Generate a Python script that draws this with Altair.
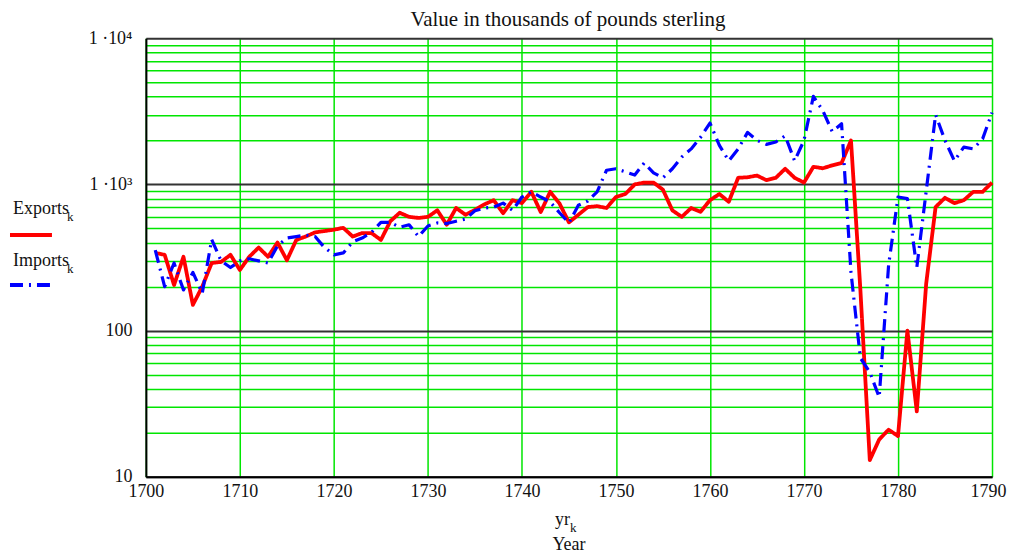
import altair as alt
import pandas as pd

years = list(range(1701, 1791))
exports = [340, 330, 205, 320, 150, 200, 290, 295, 330, 260,
           320, 370, 320, 400, 303, 417, 440, 470, 480, 490,
           505, 440, 465, 465, 417, 560, 640, 600, 590, 600,
           665, 530, 690, 620, 670, 730, 780, 635, 780, 745,
           890, 647, 890, 740, 550, 620, 700, 710, 690, 820,
           860, 1000, 1030, 1030, 920, 665, 600, 690, 650, 780,
           860, 760, 1110, 1120, 1150, 1070, 1110, 1280, 1110, 1030,
           1320, 1290, 1350, 1400, 2000, 190, 13, 18, 21, 19,
           100, 28, 210, 700, 810, 745, 780, 890, 890, 1030]
imports = [355, 200, 290, 190, 250, 180, 420, 300, 270, 300,
           310, 300, 290, 380, 430, 440, 450, 440, 370, 330,
           340, 405, 430, 470, 550, 550, 510, 530, 440, 520,
           545, 540, 560, 580, 660, 690, 700, 745, 665, 820,
           890, 820, 760, 640, 545, 720, 770, 890, 1250, 1280,
           1220, 1160, 1400, 1200, 1110, 1280, 1540, 1750, 2100, 2630,
           1850, 1450, 1750, 2270, 2000, 1880, 1950, 2150, 1450, 2000,
           4000, 3200, 2300, 2600, 250, 65, 52, 35, 280, 820,
           800, 270, 900, 3000, 2000, 1450, 1800, 1750, 2050, 3100]

x_ticks = [1700, 1710, 1720, 1730, 1740, 1750, 1760, 1770, 1780, 1790]
y_ticks = [10, 20, 30, 40, 50, 60, 70, 80, 90,
           100, 200, 300, 400, 500, 600, 700, 800, 900,
           1000, 2000, 3000, 4000, 5000, 6000, 7000, 8000, 9000, 10000]
title_text = "Value in thousands of pounds sterling"
series_names = ["Exports", "Imports"]
series_colors = ["#ff0000", "#0000ff"]
subscript = "k"
x_title_top = "yr"
x_title_bottom = "Year"

FONT = "Liberation Serif"
W, H = 847, 439
DASH = [13, 6, 2, 6]
GREEN = "#00e600"
DECADE_TEST = "indexof([10,100,1000,10000], datum.value) >= 0"

df = pd.DataFrame({
    "year": years + years,
    "value": exports + imports,
    "series": [series_names[0]] * len(years) + [series_names[1]] * len(years),
})

x_scale = alt.Scale(domain=[1700, 1790], nice=False, zero=False)
y_scale = alt.Scale(type="log", domain=[10, 10000], nice=False)

x_axis = alt.Axis(values=x_ticks, format="d", grid=True, gridColor=GREEN,
                  gridWidth=1.5, ticks=False, domainColor="#000", domainWidth=2,
                  labelFont=FONT, labelFontSize=18, labelColor="#111",
                  labelOffset={"condition": {"test": "datum.value == 1790", "value": -4}, "value": 0},
                  labelPadding=6, title=None, labelFlush=False, labelOverlap=False)
y_axis = alt.Axis(values=y_ticks, grid=True,
                  gridColor={"condition": {"test": DECADE_TEST, "value": "#333333"}, "value": GREEN},
                  gridWidth={"condition": {"test": DECADE_TEST, "value": 2}, "value": 1.5},
                  ticks=False, domainColor="#000", domainWidth=2,
                  labelFont=FONT, labelFontSize=18, labelColor="#111",
                  labelPadding=14, title=None, labelOverlap=False, labelFlush=False,
                  labelExpr="datum.value == 10000 ? '1 ·10⁴' : datum.value == 1000 ? '1 ·10³' : datum.value == 100 ? '100' : datum.value == 10 ? '10' : ''")

lines = alt.Chart(df).mark_line(strokeJoin="round", strokeCap="butt").encode(
    x=alt.X("year:Q", scale=x_scale, axis=x_axis),
    y=alt.Y("value:Q", scale=y_scale, axis=y_axis),
    color=alt.Color("series:N", scale=alt.Scale(domain=series_names, range=series_colors), legend=None),
    strokeDash=alt.StrokeDash("series:N", scale=alt.Scale(domain=series_names, range=[[1, 0], DASH]), legend=None),
    strokeWidth=alt.StrokeWidth("series:N", scale=alt.Scale(domain=series_names, range=[3.8, 3.2]), legend=None),
    order=alt.Order("year:Q"),
)

one = pd.DataFrame({"a": [0]})

title_mark = alt.Chart(one).mark_text(font=FONT, fontSize=21, color="#111",
                                      align="center", baseline="alphabetic").encode(
    x=alt.value(W / 2 - 1), y=alt.value(-12), text=alt.value(title_text))

leg_exp_text = alt.Chart(one).mark_text(font=FONT, fontSize=18, color="#111",
                                        align="left", baseline="alphabetic").encode(
    x=alt.value(-133), y=alt.value(176), text=alt.value(series_names[0]))
leg_exp_sub = alt.Chart(one).mark_text(font=FONT, fontSize=13, color="#111",
                                       align="left", baseline="alphabetic").encode(
    x=alt.value(-79), y=alt.value(183), text=alt.value(subscript))
leg_exp_line = alt.Chart(one).mark_rule(color=series_colors[0], strokeWidth=4).encode(
    x=alt.value(-136), x2=alt.value(-94), y=alt.value(197))

leg_imp_text = alt.Chart(one).mark_text(font=FONT, fontSize=18, color="#111",
                                        align="left", baseline="alphabetic").encode(
    x=alt.value(-133), y=alt.value(228), text=alt.value(series_names[1]))
leg_imp_sub = alt.Chart(one).mark_text(font=FONT, fontSize=13, color="#111",
                                       align="left", baseline="alphabetic").encode(
    x=alt.value(-79), y=alt.value(235), text=alt.value(subscript))
leg_imp_line = alt.Chart(one).mark_rule(color=series_colors[1], strokeWidth=4,
                                        strokeDash=DASH, strokeCap="butt").encode(
    x=alt.value(-136), x2=alt.value(-94), y=alt.value(247))

xt_top = alt.Chart(one).mark_text(font=FONT, fontSize=18, color="#111",
                                  align="right", baseline="alphabetic").encode(
    x=alt.value(W / 2 + 1), y=alt.value(487), text=alt.value(x_title_top))
xt_sub = alt.Chart(one).mark_text(font=FONT, fontSize=13, color="#111",
                                  align="left", baseline="alphabetic").encode(
    x=alt.value(W / 2 + 1), y=alt.value(494), text=alt.value(subscript))
xt_bot = alt.Chart(one).mark_text(font=FONT, fontSize=18, color="#111",
                                  align="center", baseline="alphabetic").encode(
    x=alt.value(W / 2), y=alt.value(512), text=alt.value(x_title_bottom))

chart = alt.layer(
    lines, title_mark,
    leg_exp_text, leg_exp_sub, leg_exp_line,
    leg_imp_text, leg_imp_sub, leg_imp_line,
    xt_top, xt_sub, xt_bot,
).properties(
    width=W, height=H,
    autosize=alt.AutoSizeParams(type="none"),
    padding={"left": 138, "top": 30, "right": 15, "bottom": 76},
).configure_view(stroke="#000", strokeWidth=1).configure(background="white")

chart.save("out.html", embed_options={"renderer": "svg", "actions": False})
